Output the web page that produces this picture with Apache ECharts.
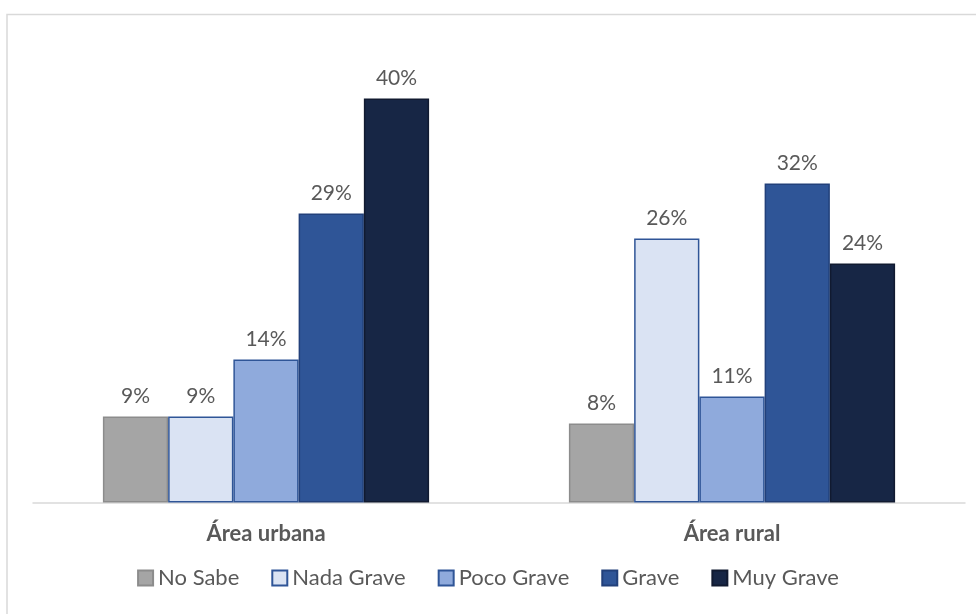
<!DOCTYPE html>
<html>
<head>
<meta charset="utf-8">
<script src="https://cdn.jsdelivr.net/npm/echarts@6/dist/echarts.min.js"></script>
<style>
  html, body { margin: 0; padding: 0; background: #fff; }
  #chart { width: 976px; height: 614px; }
</style>
</head>
<body>
<div id="chart"></div>
<script>
// datos (alturas de barra; la etiqueta se redondea)
const categories = ['Área urbana', 'Área rural'];
const seriesNames = ['No Sabe', 'Nada Grave', 'Poco Grave', 'Grave', 'Muy Grave'];
const noSabe = [8.6, 7.9];
const nadaGrave = [8.6, 26.4];
const pocoGrave = [14.3, 10.6];
const grave = [28.9, 31.9];
const muyGrave = [40.4, 23.9];

const fills = ['#a5a5a5', '#dae3f3', '#8faadc', '#2f5597', '#172645'];
const borders = ['#8c8c8c', '#2f5597', '#2f5597', '#22407a', '#111a30'];
const values = [noSabe, nadaGrave, pocoGrave, grave, muyGrave];

const font = 'Lato, "Open Sans", sans-serif';

const chart = echarts.init(document.getElementById('chart'));

const series = seriesNames.map(function (name, i) {
    return {
        name: name,
        type: 'bar',
        data: values[i],
        barGap: '0%',
        barCategoryGap: '30%',
        itemStyle: { color: fills[i], borderColor: borders[i], borderWidth: 1.5 },
        label: {
            show: true,
            position: 'top',
            distance: 10,
            formatter: function (p) { return Math.round(p.value) + '%'; },
            color: '#595959',
            fontSize: 21,
            fontFamily: font
        }
    };
});

chart.setOption({
    animation: false,
    graphic: [{
        type: 'polyline',
        shape: { points: [[7, 640], [7, 14.5], [990, 14.5]] },
        style: { stroke: '#d9d9d9', lineWidth: 1.5, fill: null }
    }],
    grid: { left: 33, right: 11, top: 52.5, bottom: 111.5 },
    legend: {
        bottom: 20,
        left: 'center',
        itemWidth: 15,
        itemHeight: 15,
        itemGap: 32,
        icon: 'rect',
        textStyle: { color: '#595959', fontSize: 22, fontFamily: font },
        data: seriesNames
    },
    xAxis: {
        type: 'category',
        data: categories,
        axisLine: { lineStyle: { color: '#d9d9d9', width: 1.5 } },
        axisTick: { show: false },
        axisLabel: { color: '#595959', fontSize: 22, fontWeight: 'bold', fontFamily: font, margin: 20 }
    },
    yAxis: {
        type: 'value',
        min: 0,
        max: 45,
        show: false
    },
    series: series
});

window.addEventListener('resize', () => {
    chart.resize();
});
</script>
</body>
</html>
